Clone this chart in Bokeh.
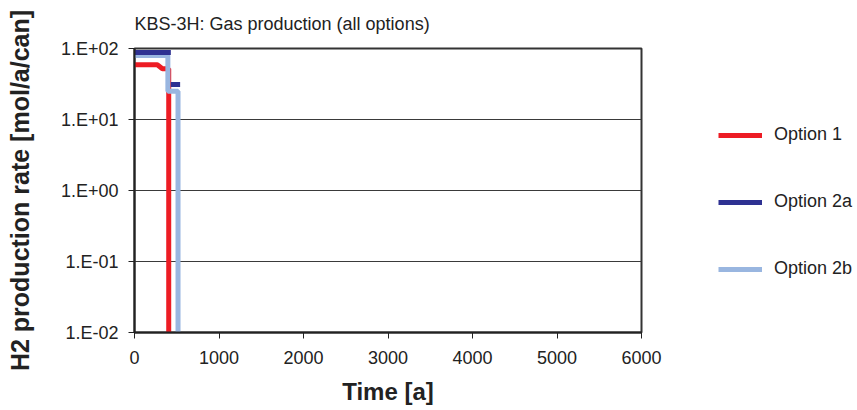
from bokeh.plotting import figure
from bokeh.layouts import row
from bokeh.models import (FixedTicker, Legend, LegendItem, Range1d)
from bokeh.embed import file_html
from bokeh.resources import INLINE

# Hydrogen production rate per canister for each design option (stepwise in time)
time_opt1 = [0, 270, 330, 405, 405]
rate_opt1 = [59, 59, 52, 52, 0.001]

time_opt2a = [0, 430, float("nan"), 430, 540]
rate_opt2a = [88, 88, float("nan"), 31, 31]

time_opt2b = [0, 395, 395, 515, 515]
rate_opt2b = [80, 80, 25, 25, 0.001]

series_names = ["Option 1", "Option 2a", "Option 2b"]
series_colors = ["#ed1c24", "#2e3192", "#99b6e0"]

x_ticks = [0, 1000, 2000, 3000, 4000, 5000, 6000]
y_ticks = [0.01, 0.1, 1, 10, 100]
y_tick_labels = ["1.E-02", "1.E-01", "1.E+00", "1.E+01", "1.E+02"]

FONT = "Liberation Sans"
TEXT_COLOR = "#222222"

series = [(time_opt1, rate_opt1), (time_opt2a, rate_opt2a), (time_opt2b, rate_opt2b)]
line_styles = [dict(line_color=c, line_width=5) for c in series_colors]

# ---- main chart -------------------------------------------------------------
p = figure(width=665, height=410, output_backend="svg", toolbar_location=None,
           y_axis_type="log", x_range=Range1d(0, 6000), y_range=Range1d(0.01, 100),
           min_border_left=134, min_border_right=24, min_border_top=48,
           min_border_bottom=78)

p.title.text = "KBS-3H: Gas production (all options)"
p.title.text_font = FONT
p.title.text_font_size = "18px"
p.title.text_font_style = "normal"
p.title.text_color = TEXT_COLOR
p.title.align = "left"
p.title.vertical_align = "top"
p.title.standoff = 26

p.outline_line_color = "#333333"
p.outline_line_width = 2
p.background_fill_color = "white"
p.border_fill_color = "white"

p.xgrid.visible = False
p.ygrid.grid_line_color = "#3a3a3a"
p.ygrid.grid_line_width = 1
p.ygrid.ticker = FixedTicker(ticks=y_ticks)

for ax in (p.xaxis[0], p.yaxis[0]):
    ax.axis_line_color = TEXT_COLOR
    ax.axis_line_width = 2
    ax.major_tick_line_color = TEXT_COLOR
    ax.major_tick_line_width = 1
    ax.major_tick_in = 0
    ax.major_tick_out = 6
    ax.minor_tick_line_color = None
    ax.major_label_text_font = FONT
    ax.major_label_text_font_size = "18px"
    ax.major_label_text_color = TEXT_COLOR
    ax.axis_label_text_font = FONT
    ax.axis_label_text_font_style = "bold"
    ax.axis_label_text_color = TEXT_COLOR

p.xaxis.ticker = FixedTicker(ticks=x_ticks)
p.xaxis.axis_label = "Time [a]"
p.xaxis.axis_label_text_font_size = "24px"
p.xaxis.major_label_standoff = 12
p.xaxis.axis_label_standoff = 11

p.yaxis.ticker = FixedTicker(ticks=y_ticks)
p.yaxis.major_label_overrides = dict(zip(y_ticks, y_tick_labels))
p.yaxis.axis_label = "H2 production rate [mol/a/can]"
p.yaxis.axis_label_text_font_size = "25px"
p.yaxis.major_label_standoff = 10
p.yaxis.axis_label_standoff = 24

# draw order: Option 1 first, Option 2b above it, Option 2a on top
for i in (0, 2, 1):
    p.line(series[i][0], series[i][1], **line_styles[i])

# ---- legend panel beside the chart -----------------------------------------
# the same series are plotted here outside the visible ranges, only as legend keys
lg = figure(width=192, height=410, output_backend="svg", toolbar_location=None,
            x_range=Range1d(-2, -1), y_range=Range1d(-2, -1),
            min_border=0, outline_line_color=None)
lg.axis.visible = False
lg.grid.visible = False
lg.background_fill_color = "white"
lg.border_fill_color = "white"

keys = [lg.line(xs, ys, **style) for (xs, ys), style in zip(series, line_styles)]

legend = Legend(items=[LegendItem(label=name, renderers=[r])
                       for name, r in zip(series_names, keys)],
                location=(53, 53), orientation="vertical",
                glyph_width=44, glyph_height=20, label_height=20,
                spacing=46, padding=0, margin=0, label_standoff=12,
                label_text_font=FONT, label_text_font_size="18px",
                label_text_color=TEXT_COLOR,
                border_line_color=None, background_fill_alpha=0)
lg.add_layout(legend, "center")

layout = row(p, lg, spacing=0)
open("out.html", "w").write(file_html(layout, INLINE))
